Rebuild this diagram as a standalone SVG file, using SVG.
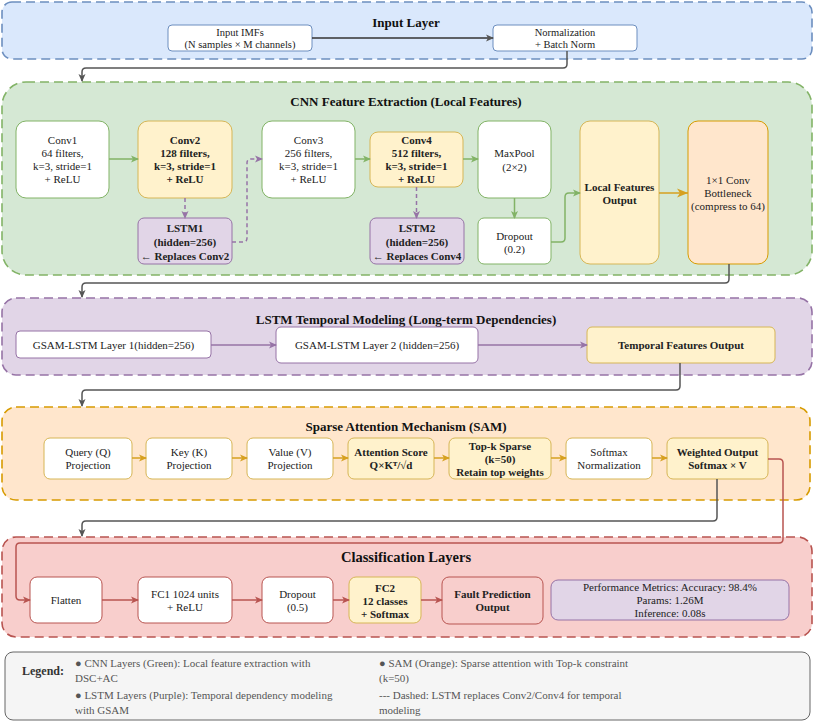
<svg xmlns="http://www.w3.org/2000/svg" width="816" height="726" viewBox="0 0 816 726" font-family="'Liberation Serif', Tinos, 'Times New Roman', Times, 'DejaVu Serif', serif">
<style>
text{font-family:'Liberation Serif', Tinos, 'Times New Roman', Times, 'DejaVu Serif', serif;font-size:11px;fill:#222;text-anchor:middle}
.b{font-weight:bold}
.ttl{font-size:13px;font-weight:bold;fill:#111}
.lg{font-size:11px;fill:#555;text-anchor:start}
.cont{stroke-width:1.6;stroke-dasharray:9 5}
.nd{stroke-width:1}
.c{fill:none;stroke-width:1.5}
</style>
<defs>
<marker id="ag" markerWidth="8" markerHeight="8" refX="7" refY="4" orient="auto" markerUnits="userSpaceOnUse"><path d="M0,0.5 L8,4 L0,7.5 L2,4 Z" fill="#82b366"/></marker>
<marker id="ap" markerWidth="8" markerHeight="8" refX="7" refY="4" orient="auto" markerUnits="userSpaceOnUse"><path d="M0,0.5 L8,4 L0,7.5 L2,4 Z" fill="#9673a6"/></marker>
<marker id="ao" markerWidth="8" markerHeight="8" refX="7" refY="4" orient="auto" markerUnits="userSpaceOnUse"><path d="M0,0.5 L8,4 L0,7.5 L2,4 Z" fill="#d6a020"/></marker>
<marker id="ao2" markerWidth="12" markerHeight="10" refX="11" refY="5" orient="auto" markerUnits="userSpaceOnUse"><path d="M0,0.5 L11,5 L0,9.5 L3,5 Z" fill="#d6a020"/></marker>
<marker id="ar" markerWidth="8" markerHeight="8" refX="7" refY="4" orient="auto" markerUnits="userSpaceOnUse"><path d="M0,0.5 L8,4 L0,7.5 L2,4 Z" fill="#b85450"/></marker>
<marker id="ak" markerWidth="8" markerHeight="8" refX="7" refY="4" orient="auto" markerUnits="userSpaceOnUse"><path d="M0,0.5 L8,4 L0,7.5 L2,4 Z" fill="#555"/></marker>
</defs>
<rect width="816" height="726" fill="#fff"/>

<!-- Containers -->
<g id="input-layer">
<rect class="cont" x="2" y="2" width="810" height="57" rx="10" fill="#dae8fc" stroke="#6c8ebf"/>
<text class="ttl" x="406" y="27">Input Layer</text>
</g>
<g id="cnn-layer">
<rect class="cont" x="2" y="82" width="810" height="193" rx="24" fill="#d5e8d4" stroke="#82b366"/>
<text class="ttl" x="406" y="106">CNN Feature Extraction (Local Features)</text>
</g>
<g id="lstm-layer">
<rect class="cont" x="2" y="298" width="810" height="77" rx="14" fill="#e1d5e7" stroke="#9673a6"/>
<text class="ttl" x="406" y="324">LSTM Temporal Modeling (Long-term Dependencies)</text>
</g>
<g id="sam-layer">
<rect class="cont" x="2" y="407" width="808" height="93" rx="14" fill="#ffe6cc" stroke="#d79b00"/>
<text class="ttl" x="406" y="431">Sparse Attention Mechanism (SAM)</text>
</g>
<g id="cls-layer">
<rect class="cont" x="2" y="537" width="810" height="100" rx="14" fill="#f8cecc" stroke="#b85450"/>
<text class="ttl" x="406" y="562" style="font-size:14.5px">Classification Layers</text>
</g>

<!-- Input nodes -->
<g id="input-imfs">
<rect class="nd" x="168" y="25" width="144" height="26" rx="4" fill="#fff" stroke="#6c8ebf"/>
<text x="240" y="35.5" style="font-size:10.5px">Input IMFs</text>
<text x="240" y="47.5" style="font-size:10.5px">(N samples × M channels)</text>
</g>
<g id="normalization">
<rect class="nd" x="493" y="25" width="144" height="26" rx="4" fill="#fff" stroke="#6c8ebf"/>
<text x="565" y="35.5" style="font-size:10.5px">Normalization</text>
<text x="565" y="47.5" style="font-size:10.5px">+ Batch Norm</text>
</g>

<!-- CNN nodes -->
<g id="conv1">
<rect class="nd" x="16" y="121" width="93" height="77" rx="10" fill="#fff" stroke="#82b366"/>
<text x="62.5" y="144">Conv1</text><text x="62.5" y="157">64 filters,</text><text x="62.5" y="170">k=3, stride=1</text><text x="62.5" y="183">+ ReLU</text>
</g>
<g id="conv2">
<rect class="nd" x="138" y="121" width="94" height="77" rx="10" fill="#fff2cc" stroke="#d6b656"/>
<text class="b" x="185" y="144">Conv2</text><text class="b" x="185" y="157">128 filters,</text><text class="b" x="185" y="170">k=3, stride=1</text><text class="b" x="185" y="183">+ ReLU</text>
</g>
<g id="lstm1">
<rect class="nd" x="138" y="218" width="94" height="46" rx="6" fill="#e1d5e7" stroke="#9673a6"/>
<text class="b" x="185" y="232">LSTM1</text><text class="b" x="185" y="246">(hidden=256)</text><text class="b" x="185" y="260">← Replaces Conv2</text>
</g>
<g id="conv3">
<rect class="nd" x="262" y="121" width="93" height="77" rx="10" fill="#fff" stroke="#82b366"/>
<text x="308.5" y="144">Conv3</text><text x="308.5" y="157">256 filters,</text><text x="308.5" y="170">k=3, stride=1</text><text x="308.5" y="183">+ ReLU</text>
</g>
<g id="conv4">
<rect class="nd" x="370" y="132" width="93" height="55" rx="8" fill="#fff2cc" stroke="#d6b656"/>
<text class="b" x="416.5" y="144">Conv4</text><text class="b" x="416.5" y="157">512 filters,</text><text class="b" x="416.5" y="170">k=3, stride=1</text><text class="b" x="416.5" y="183">+ ReLU</text>
</g>
<g id="lstm2">
<rect class="nd" x="370" y="218" width="94" height="46" rx="6" fill="#e1d5e7" stroke="#9673a6"/>
<text class="b" x="417" y="232">LSTM2</text><text class="b" x="417" y="246">(hidden=256)</text><text class="b" x="417" y="260">← Replaces Conv4</text>
</g>
<g id="maxpool">
<rect class="nd" x="478" y="121" width="73" height="77" rx="10" fill="#fff" stroke="#82b366"/>
<text x="514.5" y="157">MaxPool</text><text x="514.5" y="171">(2×2)</text>
</g>
<g id="dropout1">
<rect class="nd" x="478" y="218" width="73" height="46" rx="6" fill="#fff" stroke="#82b366"/>
<text x="514.5" y="240">Dropout</text><text x="514.5" y="253">(0.2)</text>
</g>
<g id="local-features">
<rect class="nd" x="580" y="121" width="79" height="143" rx="10" fill="#fff2cc" stroke="#d6b656"/>
<text class="b" x="619.5" y="191">Local Features</text><text class="b" x="619.5" y="204">Output</text>
</g>
<g id="bottleneck">
<rect class="nd" x="688" y="121" width="80" height="143" rx="10" fill="#ffe6cc" stroke="#d79b00"/>
<text x="728" y="184">1×1 Conv</text><text x="728" y="197">Bottleneck</text><text x="728" y="210">(compress to 64)</text>
</g>

<!-- LSTM nodes -->
<g id="gsam1">
<rect class="nd" x="16" y="331" width="195" height="27" rx="4" fill="#fff" stroke="#9673a6"/>
<text x="113.5" y="348.5">GSAM-LSTM Layer 1(hidden=256)</text>
</g>
<g id="gsam2">
<rect class="nd" x="276" y="327" width="202" height="36" rx="5" fill="#fff" stroke="#9673a6"/>
<text x="377" y="348.5">GSAM-LSTM Layer 2 (hidden=256)</text>
</g>
<g id="temporal-out">
<rect class="nd" x="587" y="327" width="188" height="36" rx="5" fill="#fff2cc" stroke="#d6b656"/>
<text class="b" x="681" y="348.5">Temporal Features Output</text>
</g>

<!-- SAM nodes -->
<g id="query">
<rect class="nd" x="44" y="438" width="88" height="41" rx="6" fill="#fff" stroke="#d6b656"/>
<text x="88" y="456">Query (Q)</text><text x="88" y="469">Projection</text>
</g>
<g id="key">
<rect class="nd" x="146" y="438" width="86" height="41" rx="6" fill="#fff" stroke="#d6b656"/>
<text x="189" y="456">Key (K)</text><text x="189" y="469">Projection</text>
</g>
<g id="value">
<rect class="nd" x="247" y="438" width="86" height="41" rx="6" fill="#fff" stroke="#d6b656"/>
<text x="290" y="456">Value (V)</text><text x="290" y="469">Projection</text>
</g>
<g id="attention">
<rect class="nd" x="348" y="438" width="86" height="41" rx="6" fill="#fff2cc" stroke="#d6b656"/>
<text class="b" x="391" y="456">Attention Score</text><text class="b" x="391" y="469">Q×Kᵀ/√d</text>
</g>
<g id="topk">
<rect class="nd" x="449" y="438" width="102" height="41" rx="6" fill="#fff2cc" stroke="#d6b656"/>
<text class="b" x="500" y="450">Top-k Sparse</text><text class="b" x="500" y="463">(k=50)</text><text class="b" x="500" y="476">Retain top weights</text>
</g>
<g id="softmax">
<rect class="nd" x="566" y="438" width="86" height="41" rx="6" fill="#fff" stroke="#d6b656"/>
<text x="609" y="456">Softmax</text><text x="609" y="469">Normalization</text>
</g>
<g id="weighted">
<rect class="nd" x="667" y="438" width="101" height="41" rx="6" fill="#fff2cc" stroke="#d6b656"/>
<text class="b" x="717.5" y="456">Weighted Output</text><text class="b" x="717.5" y="469">Softmax × V</text>
</g>

<!-- Classification nodes -->
<g id="flatten">
<rect class="nd" x="30" y="577" width="72" height="46" rx="7" fill="#fff" stroke="#b85450"/>
<text x="66" y="604">Flatten</text>
</g>
<g id="fc1">
<rect class="nd" x="138" y="577" width="94" height="46" rx="7" fill="#fff" stroke="#b85450"/>
<text x="185" y="598">FC1 1024 units</text><text x="185" y="611">+ ReLU</text>
</g>
<g id="dropout2">
<rect class="nd" x="262" y="577" width="71" height="46" rx="7" fill="#fff" stroke="#b85450"/>
<text x="297.5" y="598">Dropout</text><text x="297.5" y="611">(0.5)</text>
</g>
<g id="fc2">
<rect class="nd" x="349" y="577" width="72" height="46" rx="7" fill="#fff2cc" stroke="#d6b656"/>
<text class="b" x="385" y="592">FC2</text><text class="b" x="385" y="605">12 classes</text><text class="b" x="385" y="618">+ Softmax</text>
</g>
<g id="fault">
<rect class="nd" x="442" y="577" width="101" height="47" rx="7" fill="#f8cecc" stroke="#b85450"/>
<text class="b" x="492.5" y="598">Fault Prediction</text><text class="b" x="492.5" y="611">Output</text>
</g>
<g id="metrics">
<rect class="nd" x="551" y="580" width="238" height="40" rx="7" fill="#e1d5e7" stroke="#9673a6"/>
<text x="670" y="591">Performance Metrics: Accuracy: 98.4%</text><text x="670" y="604">Params: 1.26M</text><text x="670" y="617">Inference: 0.08s</text>
</g>

<!-- Legend -->
<g id="legend">
<rect x="5" y="652" width="805" height="68" rx="8" fill="#f5f5f5" stroke="#666" stroke-width="1"/>
<text x="22" y="675" style="font-size:12px;font-weight:bold;text-anchor:start;fill:#333">Legend:</text>
<text class="lg" x="75" y="667">● CNN Layers (Green): Local feature extraction with</text>
<text class="lg" x="75" y="682">DSC+AC</text>
<text class="lg" x="75" y="699">● LSTM Layers (Purple): Temporal dependency modeling</text>
<text class="lg" x="75" y="714">with GSAM</text>
<text class="lg" x="379" y="667">● SAM (Orange): Sparse attention with Top-k constraint</text>
<text class="lg" x="379" y="682">(k=50)</text>
<text class="lg" x="379" y="699">--- Dashed: LSTM replaces Conv2/Conv4 for temporal</text>
<text class="lg" x="379" y="714">modeling</text>
</g>

<!-- Connectors -->
<g id="connectors">
<path class="c" d="M312,38 H493" stroke="#333" marker-end="url(#ak)"/>
<path class="c" d="M567,51 V64 Q567,68 563,68 H86 Q82,68 82,72 V81" stroke="#555" marker-end="url(#ak)"/>
<path class="c" d="M109,159 H138" stroke="#82b366" marker-end="url(#ag)"/>
<path class="c" d="M185,198 V218" stroke="#9673a6" stroke-dasharray="4 3" marker-end="url(#ap)"/>
<path class="c" d="M232,242 H243 Q247,242 247,238 V163 Q247,159 251,159 H262" stroke="#9673a6" stroke-dasharray="4 3" marker-end="url(#ap)"/>
<path class="c" d="M355,159 H370" stroke="#82b366" marker-end="url(#ag)"/>
<path class="c" d="M416.5,187 V218" stroke="#9673a6" stroke-dasharray="4 3" marker-end="url(#ap)"/>
<path class="c" d="M463,159 H478" stroke="#82b366" marker-end="url(#ag)"/>
<path class="c" d="M514.5,198 V218" stroke="#82b366" marker-end="url(#ag)"/>
<path class="c" d="M551,242 H561 Q565,242 565,238 V197 Q565,193 569,193 H580" stroke="#82b366" marker-end="url(#ag)"/>
<path class="c" d="M659,193 H688" stroke="#d6a020" stroke-width="2.2" marker-end="url(#ao2)"/>
<path class="c" d="M729,264 V279 Q729,283 725,283 H86 Q82,283 82,287 V297" stroke="#555" marker-end="url(#ak)"/>
<path class="c" d="M211,345 H276" stroke="#9673a6" marker-end="url(#ap)"/>
<path class="c" d="M478,345 H587" stroke="#9673a6" marker-end="url(#ap)"/>
<path class="c" d="M680,363 V386 Q680,390 676,390 H86 Q82,390 82,394 V406" stroke="#555" marker-end="url(#ak)"/>
<path class="c" d="M132,458 H146" stroke="#d6a020" marker-end="url(#ao)"/>
<path class="c" d="M232,458 H247" stroke="#d6a020" marker-end="url(#ao)"/>
<path class="c" d="M333,458 H348" stroke="#d6a020" marker-end="url(#ao)"/>
<path class="c" d="M434,458 H449" stroke="#d6a020" marker-end="url(#ao)"/>
<path class="c" d="M551,458 H566" stroke="#d6a020" marker-end="url(#ao)"/>
<path class="c" d="M652,458 H667" stroke="#d6a020" marker-end="url(#ao)"/>
<path class="c" d="M717,479 V517 Q717,521 713,521 H86 Q82,521 82,525 V536" stroke="#555" marker-end="url(#ak)"/>
<path class="c" d="M768,459 H779 Q783,459 783,463 V539 Q783,543 779,543 H20 Q16,543 16,547 V596 Q16,600 20,600 H30" stroke="#b85450" marker-end="url(#ar)"/>
<path class="c" d="M102,600 H138" stroke="#b85450" marker-end="url(#ar)"/>
<path class="c" d="M232,600 H262" stroke="#b85450" marker-end="url(#ar)"/>
<path class="c" d="M333,600 H349" stroke="#b85450" marker-end="url(#ar)"/>
<path class="c" d="M421,600 H442" stroke="#b85450" marker-end="url(#ar)"/>
</g>
</svg>
